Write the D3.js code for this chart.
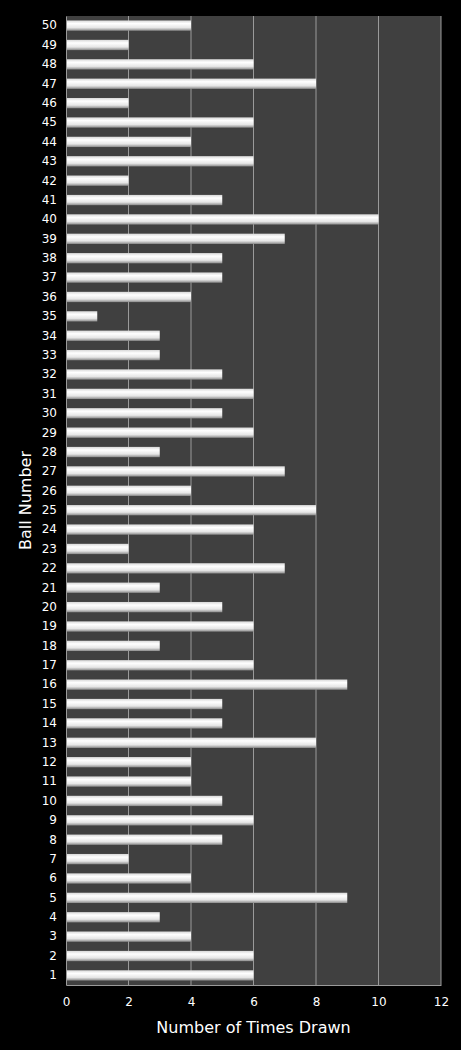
<!DOCTYPE html>
<html><head><meta charset="utf-8">
<script src="https://cdn.jsdelivr.net/npm/d3@7"></script>
<style>body{margin:0;background:#000}</style>
</head><body><div id="chart"></div>
<script>
var balls = d3.range(1, 51);
var counts = [6,6,4,3,9,4,2,5,6,5,4,4,8,5,5,9,6,3,6,5,3,7,2,6,8,4,7,3,6,5,
              6,5,3,3,1,4,5,5,7,10,5,2,6,4,6,2,8,6,2,4];
var xTicks = [0,2,4,6,8,10,12];

var w = 461, h = 1050;
var m = {left: 66, right: 20, top: 16, bottom: 65};

var svg = d3.select("#chart").append("svg").attr("width", w).attr("height", h)
    .style("background", "#000").style("font-family", "DejaVu Sans, Verdana, sans-serif");

var grad = svg.append("defs").append("linearGradient").attr("id", "g")
    .attr("x1", 0).attr("y1", 0).attr("x2", 0).attr("y2", 1);
grad.append("stop").attr("offset", "0%").attr("stop-color", "#d8d8d8");
grad.append("stop").attr("offset", "30%").attr("stop-color", "#ffffff");
grad.append("stop").attr("offset", "70%").attr("stop-color", "#e6e6e6");
grad.append("stop").attr("offset", "100%").attr("stop-color", "#8a8a8a");

var x = d3.scaleLinear().domain([0, 12]).range([m.left, w - m.right]);
var y = d3.scaleBand().domain(balls).range([h - m.bottom, m.top]).paddingInner(0.47).paddingOuter(0.23);

svg.append("rect").attr("x", m.left).attr("y", m.top)
    .attr("width", x(12) - m.left).attr("height", h - m.bottom - m.top).attr("fill", "#404040");

svg.selectAll("line.grid").data(xTicks.slice(1)).enter().append("line")
    .attr("x1", function(d) { return x(d); }).attr("x2", function(d) { return x(d); })
    .attr("y1", m.top).attr("y2", h - m.bottom)
    .attr("stroke", "#9a9a9a").attr("stroke-width", 1);

svg.selectAll("rect.bar").data(counts).enter().append("rect")
    .attr("x", x(0))
    .attr("y", function(d, i) { return y(balls[i]); })
    .attr("width", function(d) { return x(d) - x(0); })
    .attr("height", y.bandwidth())
    .attr("fill", "url(#g)");

var xa = svg.append("g").attr("transform", "translate(0," + (h - m.bottom) + ")")
    .call(d3.axisBottom(x).tickValues(xTicks).tickSize(0).tickPadding(12));
var ya = svg.append("g").attr("transform", "translate(" + m.left + ",0)")
    .call(d3.axisLeft(y).tickSize(0).tickPadding(9));
[xa, ya].forEach(function(a) {
  a.select(".domain").attr("stroke", "#9a9a9a");
  a.selectAll("text").attr("fill", "#fff").style("font-size", "12px")
    .style("font-family", "DejaVu Sans, Verdana, sans-serif");
});

svg.append("text").attr("x", x(6)).attr("y", h - 17).attr("text-anchor", "middle")
    .attr("fill", "#fff").style("font-size", "16px").text("Number of Times Drawn");
svg.append("text").attr("transform", "translate(31," + ((m.top + h - m.bottom) / 2) + ") rotate(-90)")
    .attr("text-anchor", "middle").attr("fill", "#fff").style("font-size", "16px").text("Ball Number");
</script></body></html>
